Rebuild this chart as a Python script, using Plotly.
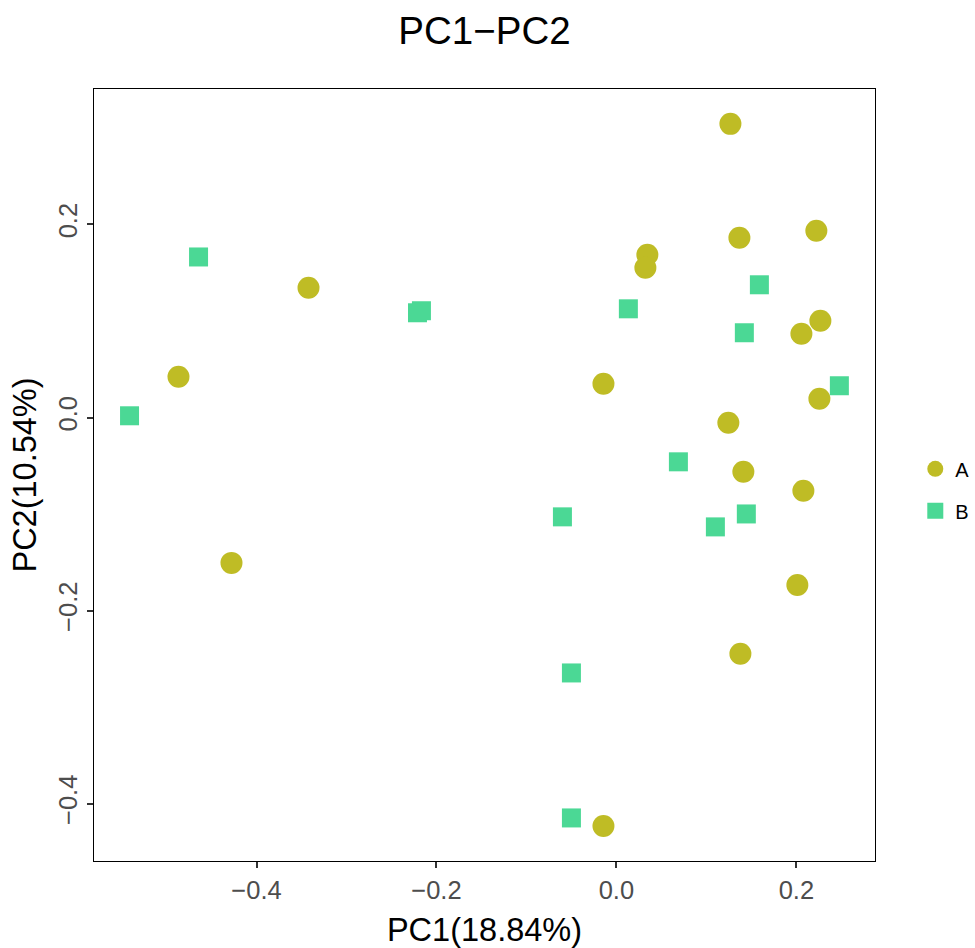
import plotly.graph_objects as go

# Group A (circles)
a_pc1 = [0.1267, 0.2222, 0.1367, 0.0344, 0.0322, -0.3422, 0.2267, 0.2056, -0.4867,
         -0.0144, 0.2256, 0.1244, 0.1411, 0.2078, -0.4278, 0.2011, 0.1378, -0.0144]
a_pc2 = [0.3042, 0.1935, 0.1862, 0.1686, 0.1551, 0.1344, 0.1002, 0.0867, 0.0422,
         0.0349, 0.0194, -0.0055, -0.0562, -0.0759, -0.1506, -0.1734, -0.2448, -0.4231]

# Group B (squares)
b_pc1 = [-0.4644, -0.2211, -0.2167, 0.0133, 0.1589, 0.1422, 0.2478, -0.5411, 0.0689,
         -0.0600, 0.1100, 0.1444, -0.0500, -0.0500]
b_pc2 = [0.1663, 0.1085, 0.1106, 0.1126, 0.1375, 0.0878, 0.0329, 0.0018, -0.0459,
         -0.1029, -0.1133, -0.0999, -0.2646, -0.4148]

x_ticks = [-0.4, -0.2, 0.0, 0.2]
y_ticks = [-0.4, -0.2, 0.0, 0.2]
x_tick_labels = ["\u22120.4", "\u22120.2", "0.0", "0.2"]
y_tick_labels = ["\u22120.4", "\u22120.2", "0.0", "0.2"]

FONT = "Liberation Sans, Arial, Helvetica, sans-serif"
COL_A = "#BFBC25"
COL_B = "#4BD895"

fig = go.Figure()
fig.add_trace(go.Scatter(x=a_pc1, y=a_pc2, mode="markers", name="A", legendgroup="A",
                         marker=dict(symbol="circle", size=22, color=COL_A, line=dict(width=0))))
fig.add_trace(go.Scatter(x=b_pc1, y=b_pc2, mode="markers", name="B", legendgroup="B",
                         marker=dict(symbol="square", size=19, color=COL_B, line=dict(width=0))))

W, H = 975, 948
L, R, T, B = 93.5, 874.7, 89.3, 861.0

fig.update_layout(
    width=W, height=H,
    margin=dict(l=L, r=W - R, t=T, b=H - B, autoexpand=False),
    paper_bgcolor="white", plot_bgcolor="white",
    font=dict(family=FONT, color="black"),
    title=dict(text="PC1\u2212PC2", x=0.5, xref="paper", xanchor="center",
               y=1 - 31 / H, yref="container", yanchor="middle",
               font=dict(size=38.5, family=FONT, color="black")),
    showlegend=True,
    legend=dict(x=(915 - L) / (R - L), xanchor="left", y=(B - 490) / (B - T), yanchor="middle",
                font=dict(size=20, family=FONT, color="black"), tracegroupgap=13,
                bgcolor="rgba(0,0,0,0)", borderwidth=0),
    xaxis=dict(range=[-0.5806, 0.2874], tickvals=x_ticks, ticktext=x_tick_labels,
               showgrid=False, zeroline=False, showline=True, linecolor="black", linewidth=1.3,
               mirror=True, ticks="outside", ticklen=6, tickwidth=2, tickcolor="#333333",
               tickfont=dict(size=25.5, family=FONT, color="#4D4D4D"),
               title=dict(text="PC1(18.84%)", font=dict(size=32.5, family=FONT, color="black"),
                          standoff=17)),
    yaxis=dict(range=[-0.4594, 0.3403], tickvals=y_ticks, ticktext=y_tick_labels,
               showgrid=False, zeroline=False, showline=True, linecolor="black", linewidth=1.3,
               mirror=True, ticks="outside", ticklen=6, tickwidth=2, tickcolor="#333333",
               tickangle=-90,
               tickfont=dict(size=25.5, family=FONT, color="#4D4D4D"),
               title=dict(text="PC2(10.54%)", font=dict(size=32.5, family=FONT, color="black"),
                          standoff=7)),
)

fig.write_html("out.html", config={"displayModeBar": False},
               post_script="document.body.style.margin='0';")
